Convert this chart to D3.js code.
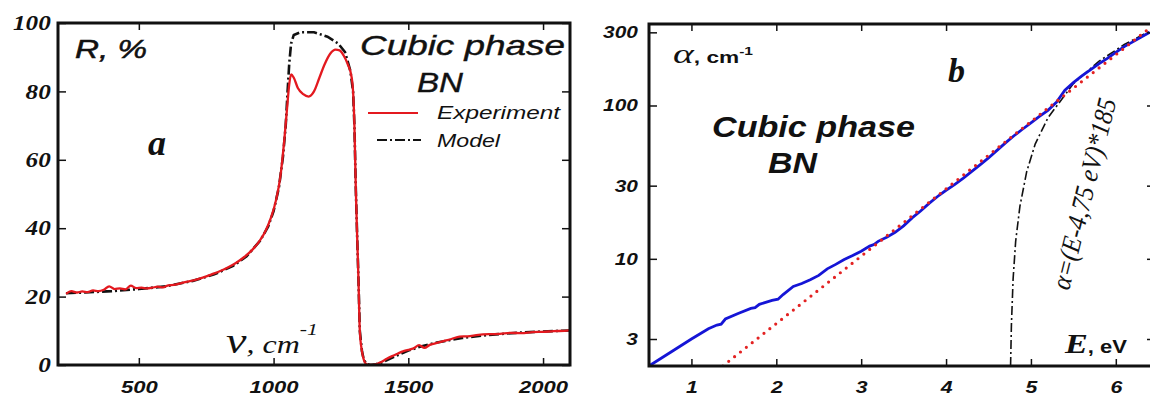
<!DOCTYPE html>
<html>
<head>
<meta charset="utf-8">
<script src="https://cdn.jsdelivr.net/npm/d3@7"></script>
<style>
  body { margin: 0; background: #fff; }
  svg { display: block; }
</style>
</head>
<body>
<svg id="chart" width="1150" height="398"></svg>
<script>
// ---- panel a: reflectance (wavenumber, R %) ----
const expNu = [230,250,270,290,310,330,350,370,390,410,430,450,470,490,510,530,550,570,590,610,630,650,680,710,740,770,800,830,860,890,920,950,970,990,1010,1025,1040,1050,1058,1065,1075,1090,1110,1130,1150,1170,1190,1210,1230,1245,1260,1275,1290,1295,1300,1305,1310,1315,1320,1328,1335,1345,1360,1380,1400,1420,1440,1460,1480,1500,1520,1540,1560,1580,1600,1630,1660,1690,1720,1760,1800,1840,1880,1920,1960,2000,2040,2080,2100];
const expR  = [20.8,21.6,21.2,21.5,21.3,21.8,21.6,22.0,23.0,22.2,22.4,22.1,23.2,22.5,22.6,22.4,22.6,22.9,22.7,23.3,23.4,23.8,24.4,24.9,25.6,26.5,27.4,28.5,29.8,31.5,33.6,36.5,39.2,43.0,48.5,55,66,75,82,85,84,81,79.2,78.5,80,84,88,91,92.2,92,90.5,88,84,80,70,52,38,25,10,4,1.5,0.2,0,0.2,0.9,1.8,2.6,3.3,4.0,4.4,4.9,5.8,5.0,5.9,6.3,7.0,7.6,8.3,8.4,8.8,9.0,9.1,9.4,9.3,9.6,9.7,9.9,10.0,10.1];

const modelNu = [230,300,400,500,600,700,780,850,900,950,980,1000,1020,1035,1045,1052,1058,1065,1075,1100,1150,1200,1240,1265,1285,1295,1300,1305,1310,1315,1320,1328,1335,1345,1360,1380,1400,1450,1500,1550,1600,1700,1800,1900,2000,2100];
const modelR  = [21,21.2,21.6,22.2,23,24.6,26.5,29,31.8,36.3,40.5,45,52,61,70,80,88,94,96.5,97.3,97.3,96,94,91.5,86,80,70,52,38,25,10,4,1.5,0.3,0,0.2,0.7,2.5,4.2,5.5,6.5,7.9,8.8,9.4,9.8,10.1];

const aXTicks = [500, 1000, 1500, 2000];
const aYTicks = [0, 20, 40, 60, 80, 100];

// ---- panel b: absorption (E eV, alpha cm-1) ----
const measE = [0.5,0.75,1.0,1.2,1.3,1.35,1.4,1.55,1.7,1.75,1.8,1.95,2.02,2.08,2.2,2.3,2.4,2.5,2.6,2.7,2.8,2.9,3.0,3.1,3.15,3.2,3.3,3.4,3.5,3.6,3.7,3.8,3.9,4.0,4.1,4.2,4.3,4.4,4.5,4.6,4.7,4.8,4.9,5.0,5.1,5.2,5.3,5.35,5.4,5.5,5.6,5.7,5.8,5.9,6.0,6.1,6.2,6.3,6.4];
const measA = [2.0,2.45,3.0,3.5,3.7,3.75,4.05,4.4,4.75,4.8,5.05,5.35,5.45,5.85,6.6,6.9,7.3,7.8,8.6,9.2,9.9,10.5,11.2,12.1,12.4,13.0,13.8,14.9,16.4,18.5,20.5,23,25.5,28,30.5,33.5,37,41,45.5,51,57,63.5,70,77,85,93,105,115,126,141,156,171,187,203,222,242,260,280,300];

const fitE = [4.76,4.77,4.79,4.82,4.87,4.95,5.05,5.2,5.5,5.8,6.1,6.4];
const fitA = [2,3.7,7.4,13,22,37,56,83,139,194,250,305];

const urbachE = [1.37, 2.9, 4.9, 6.4];
const urbachA = [2, 9.4, 71, 320];

const bXTicks = [1, 2, 3, 4, 5, 6];
const bYTicks = [3, 10, 30, 100, 300];

const svg = d3.select("#chart");
const serif = "'Liberation Serif', 'Times New Roman', serif";
const sans = "'Liberation Sans', Arial, sans-serif";

function zip(a, b) { return a.map((v, i) => [v, b[i]]); }

// text with a measured width (source picture is stretched horizontally)
function label(x, y, str, font, size, weight, width) {
  const t = svg.append("text")
    .attr("x", x).attr("y", y)
    .attr("font-family", font).attr("font-size", size)
    .attr("font-weight", weight).attr("font-style", "italic")
    .attr("fill", "#111")
    .text(str);
  if (width) t.attr("textLength", width).attr("lengthAdjust", "spacingAndGlyphs");
  return t;
}

function styleTicks(g, font, size, sx) {
  g.select(".domain").remove();
  g.selectAll(".tick line").attr("stroke", "#111").attr("stroke-width", 1.5);
  g.selectAll(".tick text")
    .attr("font-family", font).attr("font-size", size)
    .attr("font-weight", "bold").attr("font-style", "italic")
    .attr("fill", "#111")
    .attr("transform", `scale(${sx},1)`);
}

// ================= panel a =================
const ax = d3.scaleLinear().domain([200, 2100]).range([58, 570]);
const ay = d3.scaleLinear().domain([0, 100]).range([365, 23]);

svg.append("clipPath").attr("id", "clipA")
  .append("rect").attr("x", 58).attr("y", 23).attr("width", 512).attr("height", 342);

const plotA = svg.append("g").attr("clip-path", "url(#clipA)");
const lineA = d3.line().x(d => ax(d[0])).y(d => ay(d[1]));

plotA.append("path").datum(zip(modelNu, modelR))
  .attr("d", lineA).attr("fill", "none")
  .attr("stroke", "#111").attr("stroke-width", 2.6)
  .attr("stroke-dasharray", "10,3,2,3");
plotA.append("path").datum(zip(expNu, expR))
  .attr("d", lineA.curve(d3.curveMonotoneX)).attr("fill", "none")
  .attr("stroke", "#e3191f").attr("stroke-width", 2.3);

svg.append("g").attr("transform", "translate(0,365)")
  .call(d3.axisBottom(ax).tickValues(aXTicks).tickSize(-7).tickPadding(16).tickFormat(d3.format("d")))
  .call(g => styleTicks(g, sans, 17, 1.3));
svg.append("g").attr("transform", "translate(0,23)")
  .call(d3.axisTop(ax).tickValues(aXTicks).tickSize(-7).tickFormat(""))
  .call(g => styleTicks(g, sans, 17, 1));
svg.append("g").attr("transform", "translate(58,0)")
  .call(d3.axisLeft(ay).tickValues(aYTicks).tickSize(-8).tickPadding(6).tickFormat(d3.format("d")))
  .call(g => styleTicks(g, serif, 21, 1.2));
svg.append("g").attr("transform", "translate(570,0)")
  .call(d3.axisRight(ay).tickValues(aYTicks).tickSize(-8).tickFormat(""))
  .call(g => styleTicks(g, serif, 20, 1));

svg.append("rect").attr("x", 58).attr("y", 23).attr("width", 512).attr("height", 342)
  .attr("fill", "none").attr("stroke", "#111").attr("stroke-width", 3);

label(75, 58, "R, %", sans, 25, "normal", 72).attr("stroke", "#111").attr("stroke-width", 0.5);
label(148, 155, "a", serif, 36, "bold");
label(360, 55, "Cubic phase", sans, 28, "normal", 205).attr("stroke", "#111").attr("stroke-width", 0.4);
label(417, 92, "BN", sans, 28, "normal", 46).attr("stroke", "#111").attr("stroke-width", 0.4);
label(437, 119, "Experiment", sans, 18, "normal", 123);
label(437, 147, "Model", sans, 18, "normal", 63);

svg.append("line").attr("x1", 368).attr("x2", 418).attr("y1", 113).attr("y2", 113)
  .attr("stroke", "#e3191f").attr("stroke-width", 2.2);
svg.append("line").attr("x1", 377).attr("x2", 421).attr("y1", 140).attr("y2", 140)
  .attr("stroke", "#111").attr("stroke-width", 2).attr("stroke-dasharray", "10,3,2,3");

const nu = label(226, 353, null, serif, 25, "normal", 92);
nu.append("tspan").attr("font-size", 36).text("ν");
nu.append("tspan").text(", cm");
nu.append("tspan").attr("font-size", 17).attr("dy", -18).text("-1");

// ================= panel b =================
const bx = d3.scaleLinear().domain([0.5, 6.45]).range([649, 1154]);
const by = d3.scaleLog().domain([2, 340]).range([366, 24]);

svg.append("clipPath").attr("id", "clipB")
  .append("rect").attr("x", 649).attr("y", 24).attr("width", 505).attr("height", 342);

const plotB = svg.append("g").attr("clip-path", "url(#clipB)");
const lineB = d3.line().x(d => bx(d[0])).y(d => by(d[1]));

plotB.append("path").datum(zip(fitE, fitA))
  .attr("d", lineB).attr("fill", "none")
  .attr("stroke", "#111").attr("stroke-width", 1.6)
  .attr("stroke-dasharray", "9,3,2,3");
plotB.append("path").datum(zip(measE, measA))
  .attr("d", lineB).attr("fill", "none")
  .attr("stroke", "#1515d6").attr("stroke-width", 2.8);
plotB.append("path").datum(zip(urbachE, urbachA))
  .attr("d", lineB).attr("fill", "none")
  .attr("stroke", "#e32222").attr("stroke-width", 3.2)
  .attr("stroke-linecap", "round").attr("stroke-dasharray", "0,7.5");

svg.append("g").attr("transform", "translate(0,366)")
  .call(d3.axisBottom(bx).tickValues(bXTicks).tickSize(-7).tickPadding(15).tickFormat(d3.format("d")))
  .call(g => styleTicks(g, sans, 17, 1.25));
svg.append("g").attr("transform", "translate(0,24)")
  .call(d3.axisTop(bx).tickValues(bXTicks).tickSize(-7).tickFormat(""))
  .call(g => styleTicks(g, sans, 17, 1));
svg.append("g").attr("transform", "translate(649,0)")
  .call(d3.axisLeft(by).tickValues(bYTicks).tickSize(-8).tickPadding(9).tickFormat(d3.format("d")))
  .call(g => styleTicks(g, sans, 17, 1.23));
svg.append("g").attr("transform", "translate(1154,0)")
  .call(d3.axisRight(by).tickValues(bYTicks).tickSize(-7).tickFormat(""))
  .call(g => styleTicks(g, sans, 17, 1));

svg.append("rect").attr("x", 649).attr("y", 24).attr("width", 505).attr("height", 342)
  .attr("fill", "none").attr("stroke", "#111").attr("stroke-width", 3);

const al = label(673, 63, null, serif, 28, "normal", 80);
al.append("tspan").text("α");
al.append("tspan").attr("font-family", sans).attr("font-size", 16).attr("font-weight", "bold")
  .attr("font-style", "normal").text(", cm");
al.append("tspan").attr("font-family", sans).attr("font-size", 11).attr("font-weight", "bold")
  .attr("font-style", "normal").attr("dy", -8).text("-1");

label(948, 82, "b", serif, 34, "bold");
label(712, 137, "Cubic phase", sans, 30, "bold", 203);
label(768, 173, "BN", sans, 30, "bold", 49);

const ev = label(1065, 353, null, serif, 28, "bold", 62);
ev.append("tspan").text("E");
ev.append("tspan").attr("font-family", sans).attr("font-size", 18).attr("font-style", "normal").text(", eV");

svg.append("text")
  .attr("transform", "translate(1069,291) rotate(-76)")
  .attr("font-family", serif).attr("font-size", 27).attr("font-style", "italic")
  .attr("fill", "#111")
  .attr("textLength", 196).attr("lengthAdjust", "spacingAndGlyphs")
  .text("α=(E-4,75 eV)*185");
</script>
</body>
</html>
